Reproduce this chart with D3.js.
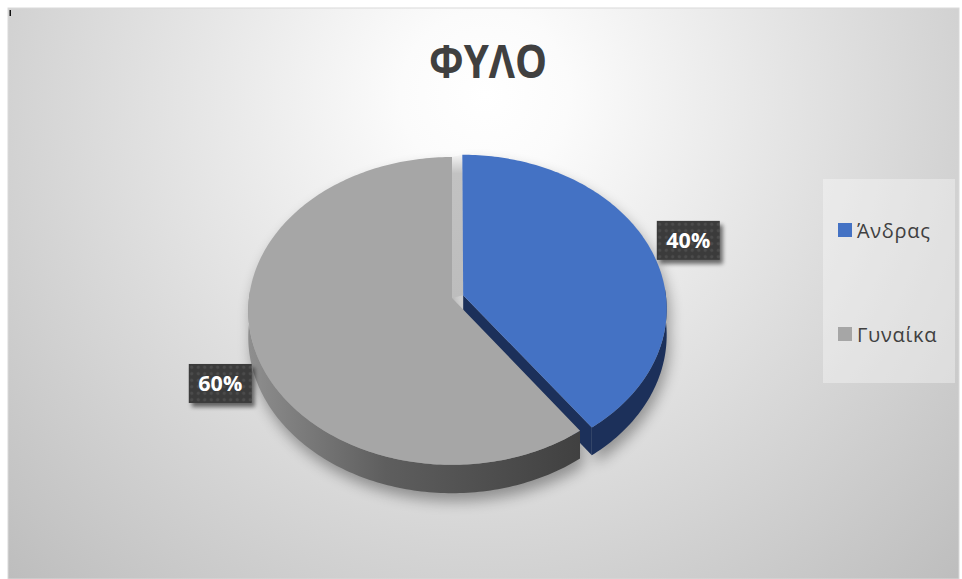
<!DOCTYPE html>
<html>
<head>
<meta charset="utf-8">
<script src="https://cdn.jsdelivr.net/npm/d3@7"></script>
<style>
  html, body { margin: 0; padding: 0; background: #ffffff; }
  svg { display: block; }
</style>
</head>
<body>
<svg id="chart" width="962" height="579"></svg>
<script>
// ---- data ----
const title = "ΦΥΛΟ";
const categories = ["Άνδρας", "Γυναίκα"];
const values = [40, 60];
const valueLabels = ["40%", "60%"];

// ---- palette ----
const topColor = d3.scaleOrdinal().domain(categories).range(["#4472C4", "#A6A6A6"]);
const sideColor = d3.scaleOrdinal().domain(categories).range(["#1c305a", "url(#graySide)"]);

const W = 962, H = 579;
const svg = d3.select("#chart");
const defs = svg.append("defs");

// chart-area background: soft radial light
const bg = defs.append("radialGradient").attr("id", "bgGrad")
  .attr("gradientUnits", "userSpaceOnUse")
  .attr("cx", 485).attr("cy", 95).attr("r", 700);
bg.append("stop").attr("offset", 0).attr("stop-color", "#ffffff");
bg.append("stop").attr("offset", 0.12).attr("stop-color", "#fbfbfb");
bg.append("stop").attr("offset", 1).attr("stop-color", "#bbbbbb");

// shading of the grey slice's rim
const gs = defs.append("linearGradient").attr("id", "graySide")
  .attr("gradientUnits", "userSpaceOnUse")
  .attr("x1", 249).attr("y1", 0).attr("x2", 590).attr("y2", 0);
gs.append("stop").attr("offset", 0).attr("stop-color", "#8e8e8e");
gs.append("stop").attr("offset", 0.4).attr("stop-color", "#5e5e5e");
gs.append("stop").attr("offset", 1).attr("stop-color", "#3f3f3f");

// inner wall seen through the exploded gap
const wg = defs.append("linearGradient").attr("id", "wallGrad")
  .attr("x1", 0).attr("y1", 0).attr("x2", 0).attr("y2", 1);
wg.append("stop").attr("offset", 0).attr("stop-color", "#f4f4f4");
wg.append("stop").attr("offset", 0.13).attr("stop-color", "#c2c2c2");
wg.append("stop").attr("offset", 1).attr("stop-color", "#bdbdbd");

// soft shadow under the pie
const sh = defs.append("filter").attr("id", "pieShadow")
  .attr("x", "-20%").attr("y", "-20%").attr("width", "140%").attr("height", "140%");
sh.append("feGaussianBlur").attr("stdDeviation", 7);

// data-label box shadow
const lsh = defs.append("filter").attr("id", "labelShadow")
  .attr("x", "-30%").attr("y", "-30%").attr("width", "160%").attr("height", "160%");
lsh.append("feGaussianBlur").attr("in", "SourceAlpha").attr("stdDeviation", 2.2).attr("result", "b");
lsh.append("feOffset").attr("in", "b").attr("dx", 3).attr("dy", 4).attr("result", "o");
lsh.append("feComponentTransfer").attr("in", "o").attr("result", "t")
  .append("feFuncA").attr("type", "linear").attr("slope", 0.55);
const lm = lsh.append("feMerge");
lm.append("feMergeNode").attr("in", "t");
lm.append("feMergeNode").attr("in", "SourceGraphic");

// dotted texture of the label boxes
const pat = defs.append("pattern").attr("id", "dots")
  .attr("patternUnits", "userSpaceOnUse").attr("width", 6.5).attr("height", 6.5);
pat.append("rect").attr("width", 6.5).attr("height", 6.5).attr("fill", "#3b3b3b");
pat.append("circle").attr("cx", 3.25).attr("cy", 3.25).attr("r", 1.6).attr("fill", "#4c4c4c");

// ---- chart area ----
svg.append("rect").attr("x", 8).attr("y", 8).attr("width", 951).attr("height", H - 8)
  .attr("fill", "url(#bgGrad)").attr("stroke", "#d9d9d9").attr("stroke-width", 1);
svg.append("rect").attr("x", 9.5).attr("y", 10).attr("width", 1.5).attr("height", 6).attr("fill", "#111");

// ---- title ----
svg.append("text")
  .attr("x", 488).attr("y", 78)
  .attr("text-anchor", "middle")
  .attr("font-family", "'Open Sans', 'Noto Sans', sans-serif")
  .attr("font-weight", 700)
  .attr("font-size", 46)
  .attr("fill", "#404040")
  .attr("textLength", 118)
  .attr("lengthAdjust", "spacingAndGlyphs")
  .text(title);

// ---- 3D pie geometry ----
const cx = 452, cy = 298;          // projected centre of the pie
const rx = 203, ry = 152.8;        // radii of the top face
const persp = 11.9;                // viewer distance in pie radii
const depth = 26;                  // thickness of the disc
const explode = 0.058;             // pull-out of the first slice

const pie = d3.pie().sort(null).value(d => d.value).startAngle(0).endAngle(2 * Math.PI);
const data = categories.map((c, i) => ({ name: c, value: values[i], label: valueLabels[i] }));
const arcs = pie(data);

arcs.forEach((a, i) => {
  const mid = (a.startAngle + a.endAngle) / 2;
  const e = i === 0 ? explode : 0;
  a.off = { x: Math.sin(mid) * e, z: Math.cos(mid) * e };
  a.mid = mid;
});

// angle clockwise from 12 o'clock, radius fraction, height fraction (0 top, 1 bottom)
function proj(theta, r, h, off) {
  const x3 = r * Math.sin(theta) + off.x;
  const z3 = r * Math.cos(theta) + off.z;
  const s = persp / (persp + z3);
  return [cx + rx * x3 * s, cy - ry * z3 * s + depth * h * s];
}

function rim(a0, a1, h, off) {
  const n = Math.max(2, Math.ceil(Math.abs(a1 - a0) / (Math.PI / 180)));
  return d3.range(n + 1).map(j => proj(a0 + (a1 - a0) * j / n, 1, h, off));
}

const line = d3.line();
const poly = pts => line(pts) + "Z";

function topPath(a) {
  return poly([proj(0, 0, 0, a.off)].concat(rim(a.startAngle, a.endAngle, 0, a.off)));
}
function sidePath(a) {
  const lo = Math.max(a.startAngle, Math.PI / 2 - 0.05);
  const hi = Math.min(a.endAngle, 3 * Math.PI / 2 + 0.05);
  if (hi <= lo) return null;
  return poly(rim(lo, hi, 0, a.off).concat(rim(hi, lo, 1, a.off)));
}
function wallPath(a, theta) {
  return poly([proj(theta, 0, 0, a.off), proj(theta, 1, 0, a.off),
               proj(theta, 1, 1, a.off), proj(theta, 0, 1, a.off)]);
}
function silhouette(a) {
  const pts = [proj(0, 0, 0, a.off)].concat(rim(a.startAngle, a.endAngle, 0, a.off));
  const s = sidePath(a);
  return poly(pts) + (s ? s : "");
}

const pieG = svg.append("g");

// shadow
pieG.append("g").attr("filter", "url(#pieShadow)").attr("transform", "translate(3,8)")
  .attr("opacity", 0.34)
  .selectAll("path").data(arcs).join("path")
  .attr("d", silhouette).attr("fill", "#000");

// inner wall of the grey slice visible in the gap at 12 o'clock
const blue = arcs[0], grey = arcs[1];
pieG.append("path")
  .attr("d", poly([proj(0, 1, 0, grey.off), proj(0, 1, 0, blue.off),
                   proj(0, 0, 0, blue.off), proj(0, 0, 0, grey.off)]))
  .attr("fill", "url(#wallGrad)");

// cut face of the pulled-out slice
pieG.append("path").attr("d", wallPath(blue, blue.endAngle)).attr("fill", sideColor(blue.data.name));

// outer rims, back to front
pieG.selectAll("path.side").data(arcs).join("path")
  .attr("class", "side")
  .attr("d", d => sidePath(d))
  .attr("fill", d => sideColor(d.data.name));

// top faces
pieG.selectAll("path.top").data(arcs).join("path")
  .attr("class", "top")
  .attr("d", topPath)
  .attr("fill", d => topColor(d.data.name));

// ---- data labels ----
const boxW = 63, boxH = 39;
const labelG = svg.append("g");
arcs.forEach(a => {
  const p = proj(a.mid, 1, 0, a.off);
  const right = Math.sin(a.mid) >= 0;
  const x0 = right ? p[0] + 6 : p[0] - 2 - boxW;
  const yc = right ? p[1] - 9 : p[1] + 37;
  const g = labelG.append("g");
  g.append("rect").attr("x", x0).attr("y", yc - boxH / 2)
    .attr("width", boxW).attr("height", boxH)
    .attr("fill", "url(#dots)").attr("filter", "url(#labelShadow)");
  g.append("text").attr("x", x0 + boxW / 2).attr("y", yc + 7.5)
    .attr("text-anchor", "middle")
    .attr("font-family", "'Open Sans', 'Noto Sans', sans-serif")
    .attr("font-weight", 700).attr("font-size", 21.5)
    .attr("fill", "#ffffff")
    .text(a.data.label);
});

// ---- legend ----
const legend = svg.append("g");
legend.append("rect").attr("x", 823).attr("y", 179).attr("width", 132).attr("height", 204)
  .attr("fill", "#ffffff").attr("opacity", 0.35);
const ly = d3.scalePoint().domain(categories).range([230, 334]);
const items = legend.selectAll("g.item").data(categories).join("g").attr("class", "item")
  .attr("transform", d => `translate(838,${ly(d)})`);
items.append("rect").attr("x", 0).attr("y", -7).attr("width", 14).attr("height", 14)
  .attr("fill", d => topColor(d));
items.append("text").attr("x", 19).attr("y", 7.5)
  .attr("font-family", "'Open Sans', 'Noto Sans', sans-serif")
  .attr("font-size", 20).attr("letter-spacing", 0.7).attr("fill", "#404040")
  .text(d => d);
</script>
</body>
</html>
